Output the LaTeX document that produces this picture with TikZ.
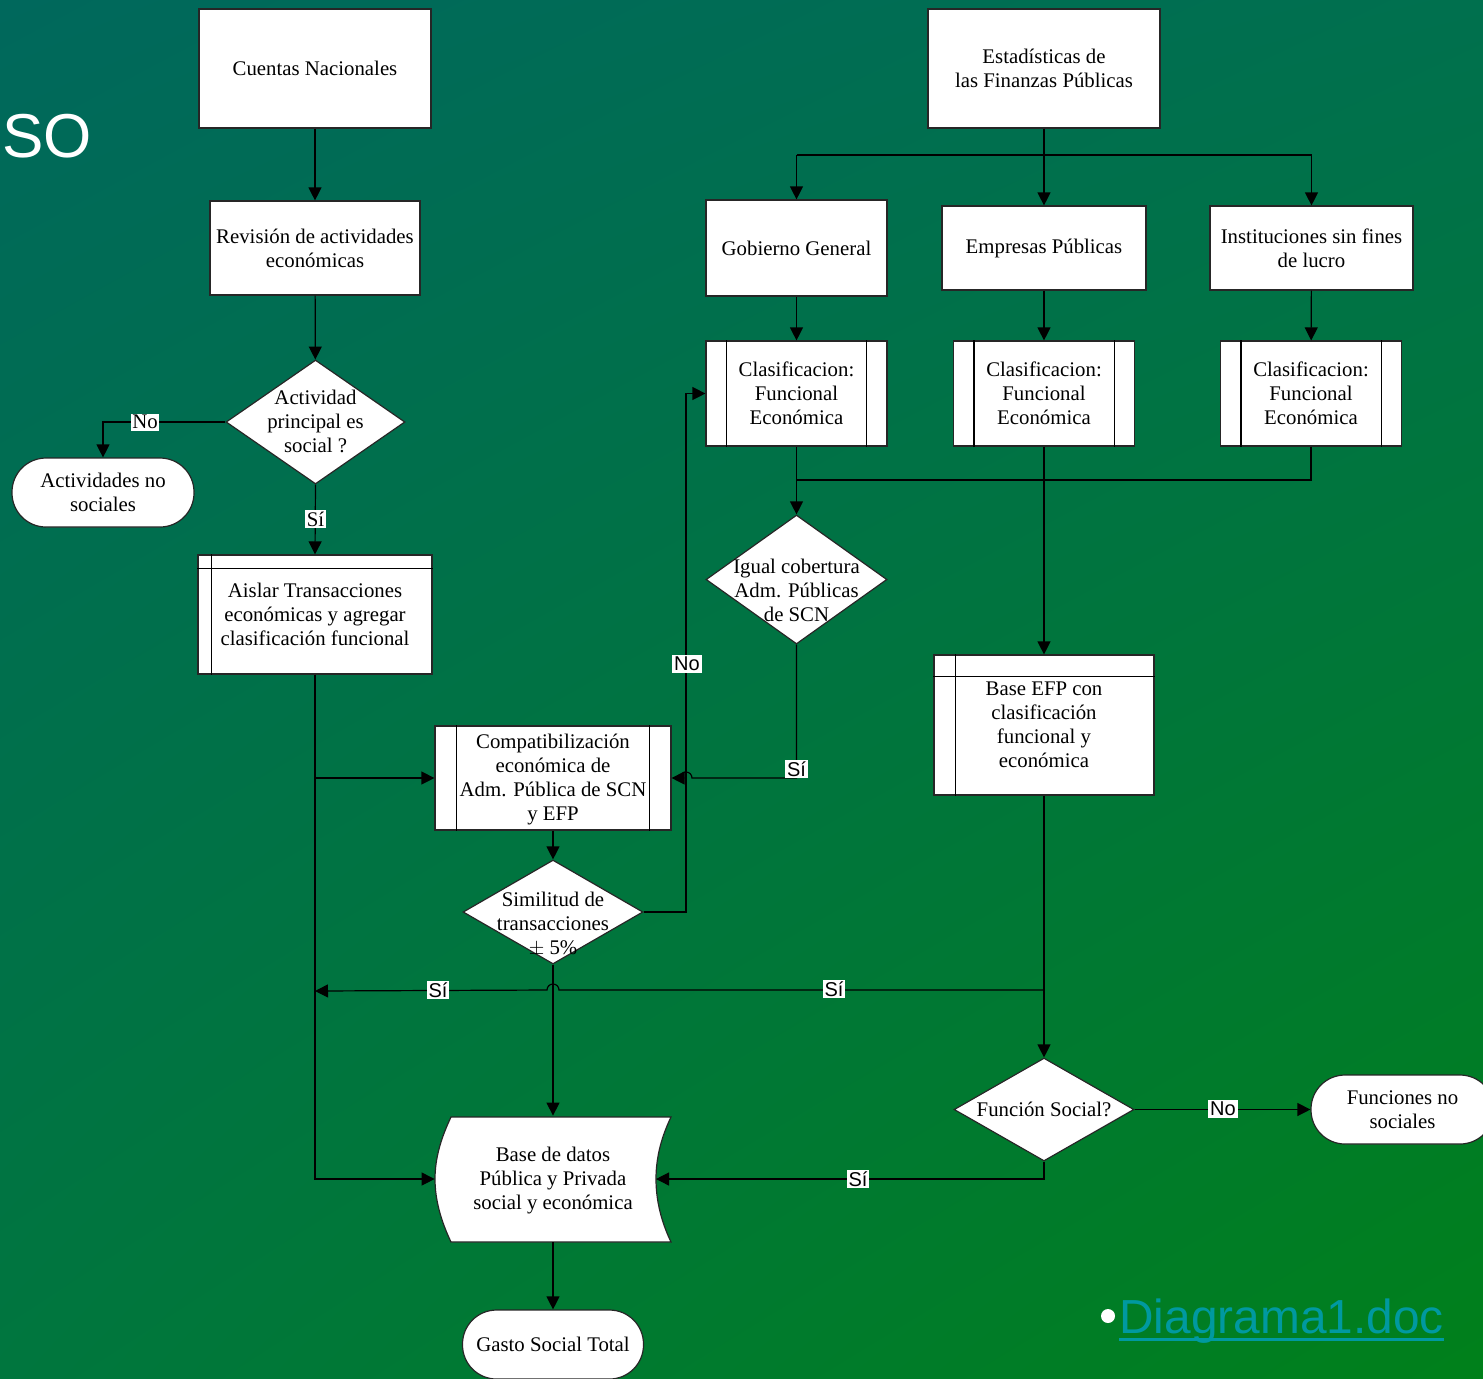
\documentclass[tikz,border=0pt]{standalone}
\usepackage{fontspec}
\setmainfont{Liberation Serif}
\newfontfamily\arialf{Liberation Sans}
\usetikzlibrary{arrows.meta,shapes.geometric,shadings}
\definecolor{bgUL}{RGB}{0,104,92}
\definecolor{bgUR}{RGB}{0,112,78}
\definecolor{bgLL}{RGB}{0,118,62}
\definecolor{bgLR}{RGB}{0,128,26}
\definecolor{linkc}{RGB}{0,153,160}
\tikzset{
  box/.style={draw=black!85, fill=white, line width=0.6pt, rectangle, inner sep=1pt, align=center,
              font=\fontsize{10.4}{12}\selectfont},
  dia/.style={draw=black!85, fill=white, line width=0.6pt, diamond, inner sep=0pt},
  term/.style={box, rounded corners=17pt},
  txt/.style={align=center, inner sep=0pt, font=\fontsize{10.4}{12}\selectfont},
  arr/.style={line width=0.6pt, -{Triangle[length=6.5pt,width=6.5pt]}},
  ln/.style={line width=0.6pt},
  lblsf/.style={fill=white, inner sep=0.9pt, font=\arialf\fontsize{10}{11}\selectfont},
  lblsr/.style={fill=white, inner sep=0.8pt, font=\fontsize{10.4}{12}\selectfont},
}
\begin{document}
\begin{tikzpicture}[x=0.5pt,y=-0.5pt]
\useasboundingbox (0,0) rectangle (1483,1378);
\clip (0,0) rectangle (1483,1378);
\shade[upper left=bgUL, upper right=bgUR, lower left=bgLL, lower right=bgLR] (0,0) rectangle (1483,1378);

% title fragment
\node[anchor=base west, inner sep=0pt, text=white, font=\arialf\fontsize{31}{36}\selectfont] (so) at (2,157) {SO};

% left column
\node[box, minimum width=116pt, minimum height=59.5pt] (cn) at (315,68.5) {Cuentas Nacionales};
\node[box, minimum width=105pt, minimum height=47pt] (rev) at (315,248) {Revisión de actividades\\económicas};
\node[dia, minimum width=89.5pt, minimum height=62pt] (d1) at (315.5,422) {};
\node[txt] (d1t) at (315.5,421) {Actividad\\principal es\\social ?};
\node[term, minimum width=91pt, minimum height=34.5pt] (t1) at (103,492.5) {Actividades no\\sociales};
\node[box, minimum width=117pt, minimum height=59.5pt] (ais) at (315,614.5) {};
\node[txt] (aist) at (315,614) {Aislar Transacciones\\económicas y agregar\\clasificación funcional};
\draw[ln] ([xshift=7pt]ais.north west) -- ([xshift=7pt]ais.south west);
\draw[ln] ([yshift=-7pt]ais.north west) -- ([yshift=-7pt]ais.north east);

\node[box, minimum width=118pt, minimum height=52pt] (comp) at (553,778) {};
\node[txt] (compt) at (553,779) {Compatibilización\\económica de\\Adm. Pública de SCN\\y EFP};
\draw[ln] ([xshift=11pt]comp.north west) -- ([xshift=11pt]comp.south west);
\draw[ln] ([xshift=-11pt]comp.north east) -- ([xshift=-11pt]comp.south east);

\node[dia, minimum width=90pt, minimum height=52pt] (d2) at (553,912) {};
\node[txt] (d2t) at (553,924) {Similitud de\\transacciones\\$\pm$ 5\%};

\node[minimum width=118pt, minimum height=63pt, inner sep=0pt] (bd) at (553,1179) {};
\draw[line width=0.6pt, draw=black!85, fill=white] (451,1117) -- (671,1117)
  .. controls (661,1138) and (656,1158) .. (656,1179)
  .. controls (656,1200) and (661,1221) .. (671,1242) -- (451,1242)
  .. controls (441,1221) and (435,1200) .. (435,1179)
  .. controls (435,1158) and (441,1138) .. (451,1117) -- cycle;
\node[txt] (bdt) at (553,1181) {Base de datos\\Pública y Privada\\social y económica};
\coordinate (bdr) at (656,1179);

\node[term, minimum width=90.5pt, minimum height=34.5pt] (gst) at (553,1344.5) {Gasto Social Total};

% right part
\node[box, minimum width=116pt, minimum height=59.5pt] (efp) at (1044,68.5) {Estadísticas de\\las Finanzas Públicas};
\node[box, minimum width=90.5pt, minimum height=48pt] (gg) at (796.5,248) {Gobierno General};
\node[box, minimum width=102pt, minimum height=42pt] (ep) at (1044,248) {Empresas Públicas};
\node[box, minimum width=101.5pt, minimum height=42pt] (ins) at (1311.5,248) {Instituciones sin fines\\de lucro};

\foreach \n/\x in {c1/796.5, c2/1044, c3/1311}{
  \node[box, minimum width=90.5pt, minimum height=52.5pt] (\n) at (\x,393.5) {Clasificacion:\\Funcional\\Económica};
  \draw[ln] ([xshift=10.5pt]\n.north west) -- ([xshift=10.5pt]\n.south west);
  \draw[ln] ([xshift=-10.5pt]\n.north east) -- ([xshift=-10.5pt]\n.south east);
}

\node[dia, minimum width=90.5pt, minimum height=64.5pt] (d3) at (796.5,579.5) {};
\node[txt] (d3t) at (796.5,590) {Igual cobertura\\Adm. Públicas\\de SCN};

\node[box, minimum width=110pt, minimum height=70pt] (befp) at (1044,725) {};
\node[txt] (befpt) at (1044,725) {Base EFP con\\clasificación\\funcional y\\económica};
\draw[ln] ([xshift=11pt]befp.north west) -- ([xshift=11pt]befp.south west);
\draw[ln] ([yshift=-11pt]befp.north west) -- ([yshift=-11pt]befp.north east);

\node[dia, minimum width=90pt, minimum height=51.5pt] (d4) at (1044,1109.5) {};
\node[txt] (d4t) at (1044,1109) {Función Social?};
\node[term, minimum width=91.5pt, minimum height=34.5pt] (t2) at (1402.5,1109.5) {Funciones no\\sociales};

% coordinates
\coordinate (k1) at (686,912);
\coordinate (h1) at (686,778);
\coordinate (s1) at (1044,155);
\coordinate (s2) at (796.5,480);
\coordinate (s3) at (1044,990);
\coordinate (h2) at (553,990);
\coordinate (s4) at (315,991);

% connectors left
\draw[arr] (cn) -- (rev);
\draw[arr] (rev) -- (d1);
\draw[arr] (d1.west) -| (t1.north);
\draw[arr] (d1.south) -- (ais.north);
\draw[arr] (ais.south) |- (bd.west);
\draw[arr] (ais.south |- comp.west) -- (comp.west);
\draw[arr] (comp) -- (d2);
\draw[arr] (d2.east) -- (k1) |- (c1.west);
\draw[arr] (d2.south) -- (bd.north);
\draw[arr] (bd.south) -- (gst.north);

% connectors right
\draw[arr] (efp) -- (ep);
\draw[ln] (gg.north |- s1) -- (ins.north |- s1);
\draw[arr] (gg.north |- s1) -- (gg.north);
\draw[arr] (ins.north |- s1) -- (ins.north);
\draw[arr] (gg) -- (c1);
\draw[arr] (ep) -- (c2);
\draw[arr] (ins) -- (c3);
\draw[arr] (c1) -- (d3);
\draw[ln] (c3.south) |- (s2);
\draw[arr] (c2) -- (befp);
\draw[arr] (d3.south) -- (d3.south |- h1) -- ([xshift=3pt]h1) arc[start angle=0,end angle=180,radius=3pt] -- (comp.east);
\draw[arr] (befp) -- (d4);
\draw[arr] (s3) -- ([xshift=3pt]h2) arc[start angle=0,end angle=180,radius=3pt] -- (s4);
\draw[arr] (d4.east) -- (t2.west);
\draw[arr] (d4.south) |- (bdr);

% labels
\node[lblsr] (l1) at (145,422) {No};
\node[lblsr] (l2) at (315.5,519) {Sí};
\node[lblsf] (l3) at (687,664) {No};
\node[lblsf] (l4) at (796.5,769) {Sí};
\node[lblsf] (l5) at (438,990) {Sí};
\node[lblsf] (l6) at (834,989) {Sí};
\node[lblsf] (l7) at (1223,1109) {No};
\node[lblsf] (l8) at (858,1179) {Sí};

% link
\fill[white] (1108,1316) circle (3.5pt);
\node[anchor=base west, inner sep=0pt, text=linkc, font=\arialf\fontsize{23.9}{28}\selectfont] (dg) at (1119,1333) {Diagrama1.doc};
\draw[linkc, line width=1.5pt] ([yshift=-3pt]dg.base west) -- ([yshift=-3pt]dg.base east);
\end{tikzpicture}
\end{document}
